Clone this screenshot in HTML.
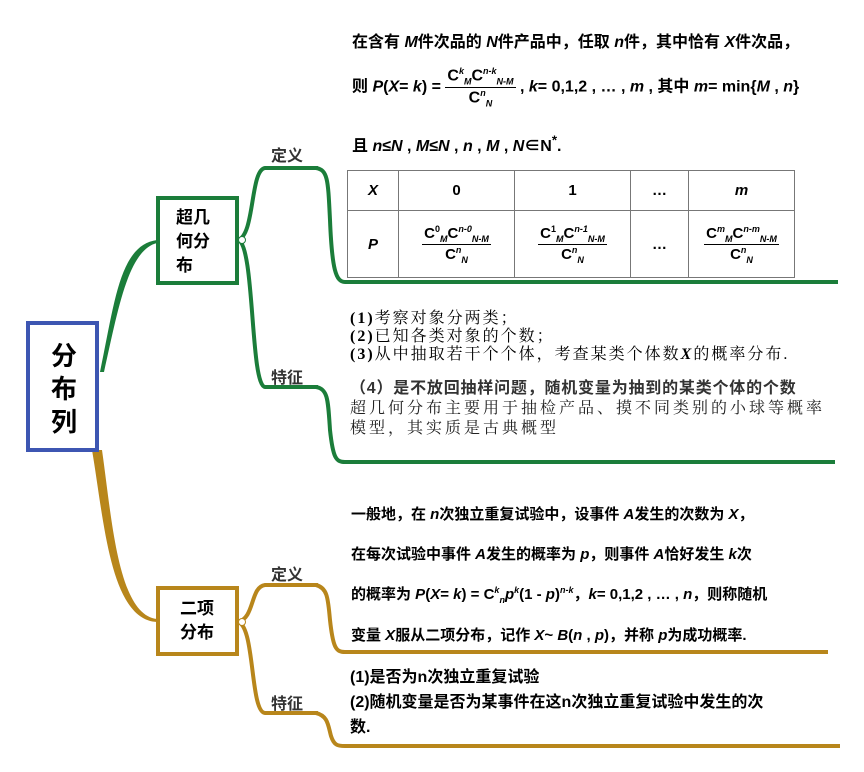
<!DOCTYPE html>
<html><head><meta charset="utf-8"><style>
body{margin:0;width:864px;height:772px;background:#fff;position:relative;overflow:hidden;font-family:"Liberation Sans","Noto Sans CJK SC",sans-serif;}
.a{position:absolute;white-space:nowrap;}
.b{font-weight:bold;}
.s{font-family:"Liberation Serif","Noto Serif CJK SC",serif;}
i{font-style:italic;}
.fr{display:inline-block;vertical-align:middle;text-align:center;}
.fr span{display:block;}
.fr .n{border-bottom:1px solid #000;padding:0 2px;}
td{border:1px solid #777;text-align:center;font-weight:bold;font-size:15px;}
</style></head><body>
<svg width="864" height="772" style="position:absolute;left:0;top:0">
<path d="M100,372 C115,300 120,245 157,240 L157,243 C128,250 118,310 104,372 Z" fill="#1b7d3a"/>
<path d="M92,450 C104,520 110,620 157,622 L157,619 C118,615 112,520 102,450 Z" fill="#b8861b"/>
<rect x="28" y="323" width="69" height="127" fill="#fff" stroke="#3d56b2" stroke-width="4"/>
<rect x="158" y="198" width="79" height="85" fill="#fff" stroke="#1b7d3a" stroke-width="4"/>
<rect x="158" y="588" width="79" height="66" fill="#fff" stroke="#b8861b" stroke-width="4"/>
<path d="M238,240 C255,235 250,170 265,168 L318,168" fill="none" stroke="#1b7d3a" stroke-width="4"/>
<path d="M238,240 C255,245 250,385 265,387 L318,387" fill="none" stroke="#1b7d3a" stroke-width="4"/>
<path d="M316,168 C328,170 328,180 330,220 C332,270 336,282 345,282 L838,282" fill="none" stroke="#1b7d3a" stroke-width="4"/>
<path d="M316,387 C328,389 328,400 330,430 C333,458 336,462 345,462 L835,462" fill="none" stroke="#1b7d3a" stroke-width="4"/>
<circle cx="242" cy="240" r="3.5" fill="#fff" stroke="#1b7d3a"/>
<path d="M238,622 C255,618 250,587 265,585 L318,585" fill="none" stroke="#b8861b" stroke-width="4"/>
<path d="M238,622 C255,626 250,712 265,713 L318,713" fill="none" stroke="#b8861b" stroke-width="4"/>
<path d="M316,585 C328,588 328,600 330,620 C333,648 336,652 345,652 L828,652" fill="none" stroke="#b8861b" stroke-width="4"/>
<path d="M316,713 C328,716 328,725 331,736 C334,745 337,746 345,746 L840,746" fill="none" stroke="#b8861b" stroke-width="4"/>
<circle cx="242" cy="622" r="3.5" fill="#fff" stroke="#b8861b"/>
</svg>
<div class="a b" style="left:44px;top:340px;font-size:26px;line-height:33px;width:40px;text-align:center;white-space:normal">分<br>布<br>列</div>
<div class="a b" style="left:176px;top:206px;font-size:17px;line-height:24px;white-space:normal;width:50px">超几<br>何分<br>布</div>
<div class="a b" style="left:180px;top:597px;font-size:17px;line-height:24px">二项<br>分布</div>
<div class="a b" style="left:271px;top:142px;font-size:16px;color:#333">定义</div>
<div class="a b" style="left:271px;top:364px;font-size:16px;color:#333">特征</div>
<div class="a b" style="left:271px;top:561px;font-size:16px;color:#333">定义</div>
<div class="a b" style="left:271px;top:690px;font-size:16px;color:#333">特征</div>

<div class="a b" style="left:352px;top:28px;font-size:16px">在含有 <i>M</i>件次品的 <i>N</i>件产品中，任取 <i>n</i>件，其中恰有 <i>X</i>件次品，</div>
<div class="a b" style="left:352px;top:66px;font-size:16px">则 <i>P</i>(<i>X</i>= <i>k</i>) = <span class="fr"><span class="n">C<sup style="font-size:9px"><i>k</i></sup><sub style="font-size:9px"><i>M</i></sub>C<sup style="font-size:9px"><i>n-k</i></sup><sub style="font-size:9px"><i>N-M</i></sub></span><span>C<sup style="font-size:9px"><i>n</i></sup><sub style="font-size:9px"><i>N</i></sub></span></span> , <i>k</i>= 0,1,2 , … , <i>m</i> , 其中 <i>m</i>= min{<i>M</i> , <i>n</i>}</div>
<div class="a b" style="left:352px;top:132px;font-size:16px">且 <i>n</i>≤<i>N</i> , <i>M</i>≤<i>N</i> , <i>n</i> , <i>M</i> , <i>N</i>∈N<sup>*</sup>.</div>
<table style="position:absolute;left:347px;top:170px;width:448px;height:108px;border-collapse:collapse">
<tr style="height:40px"><td style="width:48px"><i>X</i></td><td style="width:113px">0</td><td style="width:113px">1</td><td style="width:55px">…</td><td><i>m</i></td></tr>
<tr><td><i>P</i></td>
<td><span class="fr"><span class="n">C<sup style="font-size:9px">0</sup><sub style="font-size:9px"><i>M</i></sub>C<sup style="font-size:9px"><i>n-0</i></sup><sub style="font-size:9px"><i>N-M</i></sub></span><span>C<sup style="font-size:9px"><i>n</i></sup><sub style="font-size:9px"><i>N</i></sub></span></span></td>
<td><span class="fr"><span class="n">C<sup style="font-size:9px">1</sup><sub style="font-size:9px"><i>M</i></sub>C<sup style="font-size:9px"><i>n-1</i></sup><sub style="font-size:9px"><i>N-M</i></sub></span><span>C<sup style="font-size:9px"><i>n</i></sup><sub style="font-size:9px"><i>N</i></sub></span></span></td>
<td>…</td>
<td><span class="fr"><span class="n">C<sup style="font-size:9px"><i>m</i></sup><sub style="font-size:9px"><i>M</i></sub>C<sup style="font-size:9px"><i>n-m</i></sup><sub style="font-size:9px"><i>N-M</i></sub></span><span>C<sup style="font-size:9px"><i>n</i></sup><sub style="font-size:9px"><i>N</i></sub></span></span></td></tr>
</table>

<div class="a s" style="left:350px;top:310px;font-size:16px;line-height:18px;letter-spacing:2px">
<b>(1)</b>考察对象分两类；<br><b>(2)</b>已知各类对象的个数；<br><b>(3)</b>从中抽取若干个个体，考查某类个体数<b><i>X</i></b>的概率分布.</div>
<div class="a b" style="left:350px;top:374px;font-size:16px;color:#333;letter-spacing:0.8px">（4）是不放回抽样问题，随机变量为抽到的某类个体的个数</div>
<div class="a s" style="left:350px;top:399px;font-size:16px;line-height:20px;color:#222;letter-spacing:3px">超几何分布主要用于抽检产品、摸不同类别的小球等概率<br>模型，其实质是古典概型</div>

<div class="a b" style="left:351px;top:503px;font-size:15px">一般地，在 <i>n</i>次独立重复试验中，设事件 <i>A</i>发生的次数为 <i>X</i>，</div>
<div class="a b" style="left:351px;top:543px;font-size:15px">在每次试验中事件 <i>A</i>发生的概率为 <i>p</i>，则事件 <i>A</i>恰好发生 <i>k</i>次</div>
<div class="a b" style="left:351px;top:583px;font-size:15px">的概率为 <i>P</i>(<i>X</i>= <i>k</i>) = C<sup style="font-size:9px"><i>k</i></sup><sub style="font-size:9px"><i>n</i></sub><i>p</i><sup style="font-size:9px"><i>k</i></sup>(1 - <i>p</i>)<sup style="font-size:9px"><i>n-k</i></sup>，<i>k</i>= 0,1,2 , … , <i>n</i>，则称随机</div>
<div class="a b" style="left:351px;top:624px;font-size:15px">变量 <i>X</i>服从二项分布，记作 <i>X</i>~ <i>B</i>(<i>n</i> , <i>p</i>)，并称 <i>p</i>为成功概率.</div>

<div class="a b" style="left:350px;top:665px;font-size:16px;line-height:25px">(1)是否为n次独立重复试验<br>(2)随机变量是否为某事件在这n次独立重复试验中发生的次<br>数.</div>
</body></html>
